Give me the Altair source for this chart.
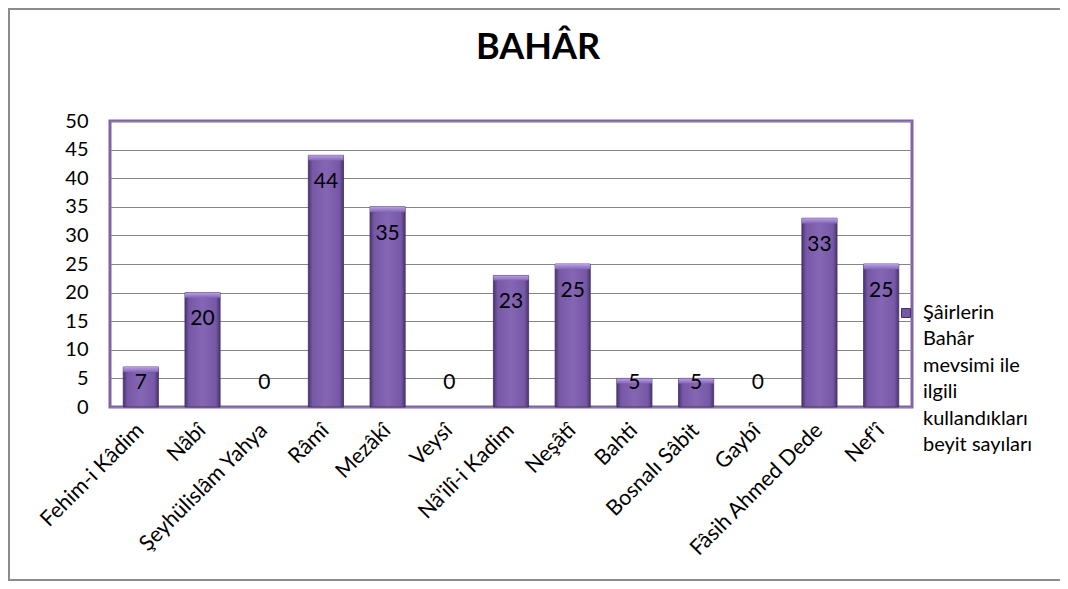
import altair as alt
import pandas as pd

poets = ["Fehim-i Kâdim", "Nâbî", "Şeyhülislâm Yahya", "Râmî", "Mezâkî", "Veysî",
         "Nâ'ilî-i Kadim", "Neşâtî", "Bahti", "Bosnalı Sâbit", "Gaybî",
         "Fâsih Ahmed Dede", "Nef'î"]
counts = [7, 20, 0, 44, 35, 0, 23, 25, 5, 5, 0, 33, 25]
series_name = "Şâirlerin|Bahâr|mevsimi ile|ilgili|kullandıkları|beyit sayıları"
title_text = "BAHÂR"
y_ticks = [0, 5, 10, 15, 20, 25, 30, 35, 40, 45, 50]

df = pd.DataFrame({"poet": poets, "value": counts})
legend_df = pd.DataFrame({"series": [series_name]})
title_df = pd.DataFrame({"title": [title_text]})

FONT = "Lato"

x_enc = alt.X("poet:N", sort=poets, title=None,
              scale=alt.Scale(paddingInner=0.43, paddingOuter=0.215),
              axis=alt.Axis(labelAngle=-45, labelAlign="right", labelBaseline="middle",
                            labelFontSize=21.5, labelColor="#000000", labelFont=FONT,
                            labelPadding=20, domain=False, ticks=False,
                            labelLimit=300))
y_scale = alt.Scale(domain=[0, 50], nice=False)
y_axis = alt.Axis(values=y_ticks, labelOverlap=False, labelFontSize=20,
                  labelColor="#000000", labelFont=FONT, labelPadding=22,
                  domain=False, ticks=False, grid=True, gridColor="#868686",
                  gridWidth=1)


def y_enc(field):
    return alt.Y(field, scale=y_scale, title=None, axis=y_axis)


grad = alt.Gradient(
    gradient="linear", x1=0, x2=1, y1=0, y2=0,
    stops=[alt.GradientStop(offset=0, color="#4a3572"),
           alt.GradientStop(offset=0.12, color="#7658a6"),
           alt.GradientStop(offset=0.5, color="#8466b5"),
           alt.GradientStop(offset=0.88, color="#7658a6"),
           alt.GradientStop(offset=1, color="#4a3572")])

bars_grad = alt.Chart(df).transform_filter("datum.value > 0").mark_bar(
    color=grad, stroke="#3f2d63", strokeWidth=0.8).encode(
    x=x_enc, y=y_enc("value:Q"))

cap_grad = alt.Gradient(
    gradient="linear", x1=0, x2=0, y1=0, y2=1,
    stops=[alt.GradientStop(offset=0, color="#b9a0e6"),
           alt.GradientStop(offset=1, color="#8466b5")])

caps = alt.Chart(df).transform_filter("datum.value > 0").transform_calculate(
    cap_bottom="max(datum.value - 0.9, 0)"
).mark_bar(color=cap_grad).encode(
    x=x_enc, y=y_enc("value:Q"), y2="cap_bottom:Q")

labels = alt.Chart(df).transform_calculate(
    label_pos="max(datum.value - 4.7, 4.2)"
).mark_text(fontSize=21, font=FONT, color="#000000", baseline="middle").encode(
    x=x_enc, y=y_enc("label_pos:Q"), text="value:Q")

border = alt.Chart(df).mark_rect(fill=None, stroke="#8c8c8c", strokeWidth=2).encode(
    x=alt.value(-101), x2=alt.value(1000), y=alt.value(-112), y2=alt.value(459))

legend_symbol = alt.Chart(legend_df).mark_square(
    size=80, color="#7658a6", stroke="#3f2d63", strokeWidth=1, opacity=1).encode(
    x=alt.value(796), y=alt.value(192))

legend_text = alt.Chart(legend_df).mark_text(
    align="left", baseline="middle", fontSize=20, font=FONT, color="#000000",
    lineBreak="|", lineHeight=26.4).encode(
    x=alt.value(813), y=alt.value(192), text="series:N")

title = alt.Chart(title_df).mark_text(
    align="center", baseline="alphabetic", fontSize=36, font=FONT, fontWeight="bold",
    color="#000000").encode(
    x=alt.value(428), y=alt.value(-62), text="title:N")

chart = alt.layer(border, bars_grad, caps, labels,
                  legend_symbol, legend_text, title).properties(
    width=802, height=286,
    padding={"left": 102, "top": 113, "right": 148, "bottom": 174},
    autosize=alt.AutoSizeParams(type="none"),
    background="#ffffff",
).configure_view(stroke="#8064a2", strokeWidth=3)

chart.save("out.html", embed_options={"renderer": "svg", "actions": False})
